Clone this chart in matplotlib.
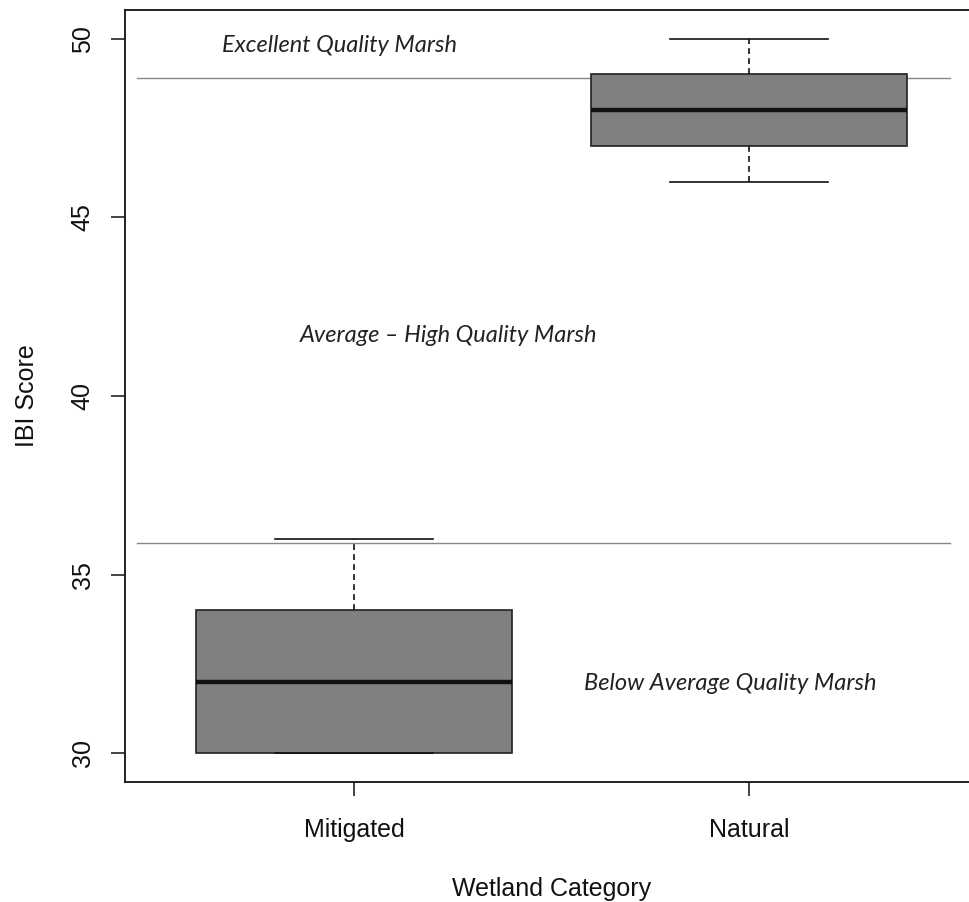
import matplotlib
matplotlib.use("Agg")
import matplotlib.pyplot as plt

categories = ["Mitigated", "Natural"]
whisker_low = [30, 46]
q1 = [30, 47]
median = [32, 48]
q3 = [34, 49]
whisker_high = [36, 50]
thresholds = [48.9, 35.9]
zone_labels = ["Excellent Quality Marsh", "Average \u2013 High Quality Marsh", "Below Average Quality Marsh"]
yticks = [30, 35, 40, 45, 50]

plt.rcParams['font.family'] = ['Liberation Sans', 'DejaVu Sans']

fig = plt.figure(figsize=(9.69, 9.02), dpi=100)
ax = fig.add_axes([0.1293, 0.1330, 1.0093 - 0.1293, 0.9889 - 0.1330])

stats = []
for i, c in enumerate(categories):
    stats.append(dict(label=c, whislo=whisker_low[i], q1=q1[i], med=median[i],
                      q3=q3[i], whishi=whisker_high[i], fliers=[]))

positions = list(range(1, len(categories) + 1))
ax.bxp(stats, positions=positions, widths=0.8, patch_artist=True, showfliers=False,
       boxprops=dict(facecolor='#808080', edgecolor='#222222', linewidth=1.2),
       medianprops=dict(color='#111111', linewidth=3.2, solid_capstyle='butt'),
       whiskerprops=dict(color='#111111', linewidth=1.2, linestyle=(0, (3.5, 2.5))),
       capprops=dict(color='#111111', linewidth=1.2),
       capwidths=0.4, zorder=3)

for t in thresholds:
    ax.plot([0.45, 2.51], [t, t], color='#888888', linewidth=1.0, zorder=2)

label_font = dict(family=['Lato', 'DejaVu Sans'], style='italic', fontsize=17,
                  va='center', ha='left', color='#222222')
ax.text(0.664, 49.8, zone_labels[0], **label_font)
ax.text(0.862, 41.69, zone_labels[1], **label_font)
ax.text(1.581, 31.97, zone_labels[2], **label_font)

ax.set_xlim(0.42, 2.58)
ax.set_ylim(29.2, 50.8)
ax.set_yticks(yticks)
ax.set_yticklabels([str(v) for v in yticks], rotation=90, va='center')
ax.set_xticks(positions)
ax.set_xticklabels(categories)
ax.tick_params(axis='both', direction='out', length=10, width=1.1, labelsize=18,
               colors='#111111')
ax.tick_params(axis='y', pad=12)
ax.tick_params(axis='x', pad=16)
for s in ax.spines.values():
    s.set_linewidth(1.3)
    s.set_color('#111111')

ax.set_xlabel("Wetland Category", fontsize=18, labelpad=25, color='#111111')
ax.set_ylabel("IBI Score", fontsize=18, labelpad=23, color='#111111')

fig.savefig("out.png", dpi=100)
